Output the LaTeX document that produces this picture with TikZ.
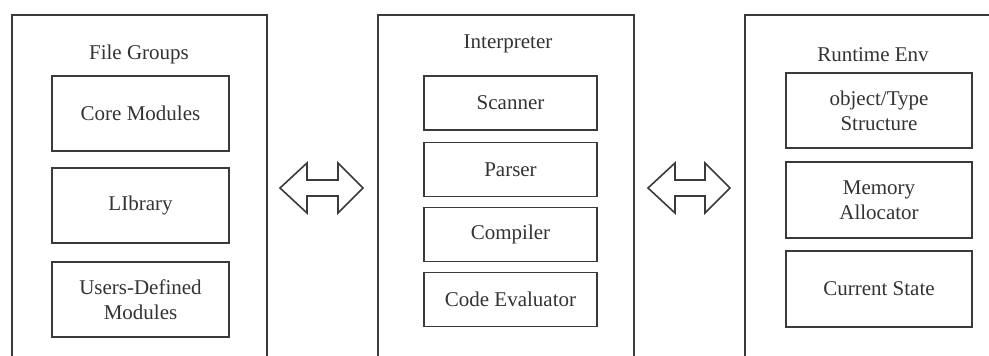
\documentclass[tikz,border=0pt]{standalone}
\usepackage{fontspec}
\setmainfont{Liberation Serif}
\definecolor{ink}{HTML}{3A3A3A}
\definecolor{txt}{HTML}{333333}
\begin{document}
\begin{tikzpicture}[x=1pt,y=-1pt,
  outerbox/.style={draw=ink,line width=1.8pt,inner sep=0pt,anchor=north west},
  innerbox/.style={draw=ink,line width=1.8pt,inner sep=0pt,align=center,text=txt,
    font=\fontsize{21}{25}\selectfont},
  title/.style={text=txt,font=\fontsize{21}{25}\selectfont,inner sep=0pt},
  blockarrow/.style={draw=ink,line width=1.6pt,fill=white,line join=miter}]
\useasboundingbox (0,0) rectangle (989,356);
\clip (0,0) rectangle (989,356);
% outer containers
\node[outerbox,minimum width=255pt,minimum height=400pt] (L) at (11,14) {};
\node[outerbox,minimum width=256pt,minimum height=400pt] (M) at (377,14) {};
\node[outerbox,minimum width=360pt,minimum height=400pt] (R) at (744,14) {};
% titles
\node[title] (Lt) at (139,54) {File Groups};
\node[title] (Mt) at (508,44) {Interpreter};
\node[title] (Rt) at (873,55) {Runtime Env};
% left inner
\node[innerbox,minimum width=177pt,minimum height=75pt] (core) at (140.5,113.5) {Core Modules};
\node[innerbox,minimum width=177pt,minimum height=75pt] (lib) at (140.5,205.5) {LIbrary};
\node[innerbox,minimum width=177pt,minimum height=75pt] (user) at (140.5,299.5) {Users-Defined\\Modules};
% middle inner
\node[innerbox,minimum width=173pt,minimum height=54pt] (scan) at (510.5,103) {Scanner};
\node[innerbox,minimum width=173pt,minimum height=54pt] (pars) at (510.5,169.5) {Parser};
\node[innerbox,minimum width=173pt,minimum height=54pt] (comp) at (510.5,234.5) {Compiler};
\node[innerbox,minimum width=173pt,minimum height=54pt] (eval) at (510.5,299.5) {Code Evaluator};
% right inner
\node[innerbox,minimum width=186pt,minimum height=75pt] (obj) at (879,110.5) {object/Type\\Structure};
\node[innerbox,minimum width=186pt,minimum height=76pt] (mem) at (879,200) {Memory\\Allocator};
\node[innerbox,minimum width=186pt,minimum height=76pt] (cur) at (879,289) {Current State};
% block arrows (double-headed)
\coordinate (a1) at (321.5,188);
\coordinate (a2) at (689,188);
\draw[blockarrow] (a1) ++(-41.5,0) -- ++(27,-25) -- ++(0,17) -- ++(31,0) -- ++(0,-17)
  -- ++(25,25) -- ++(-25,25) -- ++(0,-17) -- ++(-31,0) -- ++(0,17) -- cycle;
\draw[blockarrow] (a2) ++(-41,0) -- ++(27,-25) -- ++(0,17) -- ++(30,0) -- ++(0,-17)
  -- ++(25,25) -- ++(-25,25) -- ++(0,-17) -- ++(-30,0) -- ++(0,17) -- cycle;
\end{tikzpicture}
\end{document}
